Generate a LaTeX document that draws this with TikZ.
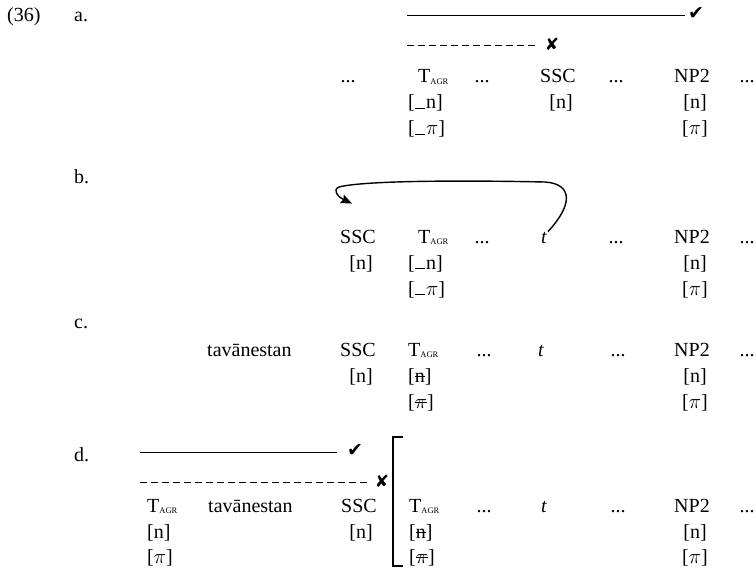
\documentclass[tikz,border=0pt]{standalone}
\usepackage{fontspec}
\setmainfont{Liberation Serif}
\newfontfamily\markfont{DejaVu Sans}
\usetikzlibrary{arrows.meta}
% T with a small AGR subscript
\newcommand{\Tagr}{T\raisebox{-1.2pt}{\fontsize{8.5}{9}\selectfont AGR}}
% a feature value with a horizontal stroke through it
\newcommand{\struck}[1]{\sbox0{#1}\makebox[\wd0][l]{\usebox0\hspace{-\wd0}\rule[0.24em]{\wd0}{0.07em}}}
% low bar marking an unvalued feature
\newcommand{\lowbar}{\hspace{0.03em}\rule[0em]{0.5em}{0.05em}\hspace{0.03em}}
\begin{document}
\begin{tikzpicture}[x=1pt,y=-1pt,
  txt/.style={inner sep=0pt, anchor=base, font=\fontsize{20}{24}\selectfont},
  ltxt/.style={txt, anchor=base west},
  dots/.style={txt, font=\fontsize{20}{24}\selectfont},
  okmark/.style={inner sep=0pt, font=\markfont\fontsize{19}{19}\selectfont},
  badmark/.style={inner sep=0pt, font=\markfont\fontsize{17}{17}\selectfont},
  agree/.style={line width=0.9pt},
  failed/.style={line width=0.9pt, dash pattern=on 7pt off 4pt},
  move/.style={line width=1.4pt, -{Stealth[length=11pt,width=9pt,inset=1.5pt]}},
  bracket/.style={line width=1.2pt}]
\useasboundingbox (0,0) rectangle (756,578);

% ---------------- (36a)
\node[ltxt] (ex) at (7,22) {(36)};
\node[ltxt] (la) at (74,22) {a.};
\node[dots] (a0) at (348,83) {...};
\node[ltxt] (aT) at (418,83) {\Tagr};
\node[dots] (a1) at (482,83) {...};
\node[txt]  (aS) at (558,83) {SSC};
\node[dots] (a2) at (616,83) {...};
\node[txt]  (aN) at (692,83) {NP2};
\node[dots] (a3) at (747,83) {...};
\node[ltxt] (aTn) at (408,109) {[\lowbar n]};
\node[ltxt] (aTp) at (408,135) {[\lowbar$\pi$]};
\node[txt]  (aSn) at (561,109) {[n]};
\node[txt]  (aNn) at (695,109) {[n]};
\node[txt]  (aNp) at (695,135) {[$\pi$]};
\node[okmark]  (aok)  at (696,14) {✔};
\node[badmark] (abad) at (552,44) {✘};
\coordinate (aokS) at (407,15);
\coordinate (abadS) at (407,45);
\draw[agree, shorten >=3pt]  (aokS)  -- (aokS -| aok.west);
\draw[failed, shorten >=6pt] (abadS) -- (abadS -| abad.west);

% ---------------- (36b)
\node[ltxt] (lb) at (74,183) {b.};
\node[txt]  (bS) at (358,243) {SSC};
\node[ltxt] (bT) at (418,243) {\Tagr};
\node[dots] (b1) at (482,243) {...};
\node[txt]  (bt) at (544,243) {\itshape t};
\node[dots] (b2) at (616,243) {...};
\node[txt]  (bN) at (692,243) {NP2};
\node[dots] (b3) at (747,243) {...};
\node[txt]  (bSn) at (361,269) {[n]};
\node[ltxt] (bTn) at (408,269) {[\lowbar n]};
\node[ltxt] (bTp) at (408,295) {[\lowbar$\pi$]};
\node[txt]  (bNn) at (695,269) {[n]};
\node[txt]  (bNp) at (695,295) {[$\pi$]};
\coordinate (bland) at ([shift={(-6,-26)}]bS.north);
\draw[move] ([xshift=1pt]bt.north east) .. controls (572,206) and (574,184) .. (545,182)
  .. controls (450,180) and (362,181) .. (339,187)
  .. controls (332,190) and (338,197) .. (bland);

% ---------------- (36c)
\node[ltxt] (lc) at (74,328) {c.};
\node[ltxt] (cV) at (207,356) {tavānestan};
\node[txt]  (cS) at (358,356) {SSC};
\node[ltxt] (cT) at (408,356) {\Tagr};
\node[dots] (c1) at (484,356) {...};
\node[txt]  (ct) at (541,356) {\itshape t};
\node[dots] (c2) at (618,356) {...};
\node[txt]  (cN) at (692,356) {NP2};
\node[dots] (c3) at (747,356) {...};
\node[txt]  (cSn) at (361,382) {[n]};
\node[ltxt] (cTn) at (408,382) {[\struck{n}]};
\node[ltxt] (cTp) at (408,408) {[\struck{$\pi$}]};
\node[txt]  (cNn) at (695,382) {[n]};
\node[txt]  (cNp) at (695,408) {[$\pi$]};

% ---------------- (36d)
\node[ltxt] (ld) at (74,461) {d.};
\node[ltxt] (dT0) at (147,512) {\Tagr};
\node[ltxt] (dV) at (208,512) {tavānestan};
\node[txt]  (dS) at (359,512) {SSC};
\node[ltxt] (dT) at (409,512) {\Tagr};
\node[dots] (d1) at (484,512) {...};
\node[txt]  (dt) at (544,512) {\itshape t};
\node[dots] (d2) at (618,512) {...};
\node[txt]  (dN) at (692,512) {NP2};
\node[dots] (d3) at (747,512) {...};
\node[ltxt] (dT0n) at (147,538) {[n]};
\node[ltxt] (dT0p) at (147,563) {[$\pi$]};
\node[txt]  (dSn) at (361,538) {[n]};
\node[ltxt] (dTn) at (409,538) {[\struck{n}]};
\node[ltxt] (dTp) at (409,563) {[\struck{$\pi$}]};
\node[txt]  (dNn) at (695,538) {[n]};
\node[txt]  (dNp) at (695,563) {[$\pi$]};
\node[okmark]  (dok)  at (355,451) {✔};
\node[badmark] (dbad) at (382,481) {✘};
\coordinate (dokS) at (140,452);
\coordinate (dbadS) at (140,482);
\draw[agree, shorten >=10pt] (dokS)  -- (dokS -| dok.west);
\draw[failed, shorten >=4pt] (dbadS) -- (dbadS -| dbad.west);
\coordinate (brT) at (393,437);
\coordinate (brB) at (393,566);
\draw[bracket] ([xshift=10pt]brT) -- (brT) -- (brB) -- ([xshift=10pt]brB);
\end{tikzpicture}
\end{document}
